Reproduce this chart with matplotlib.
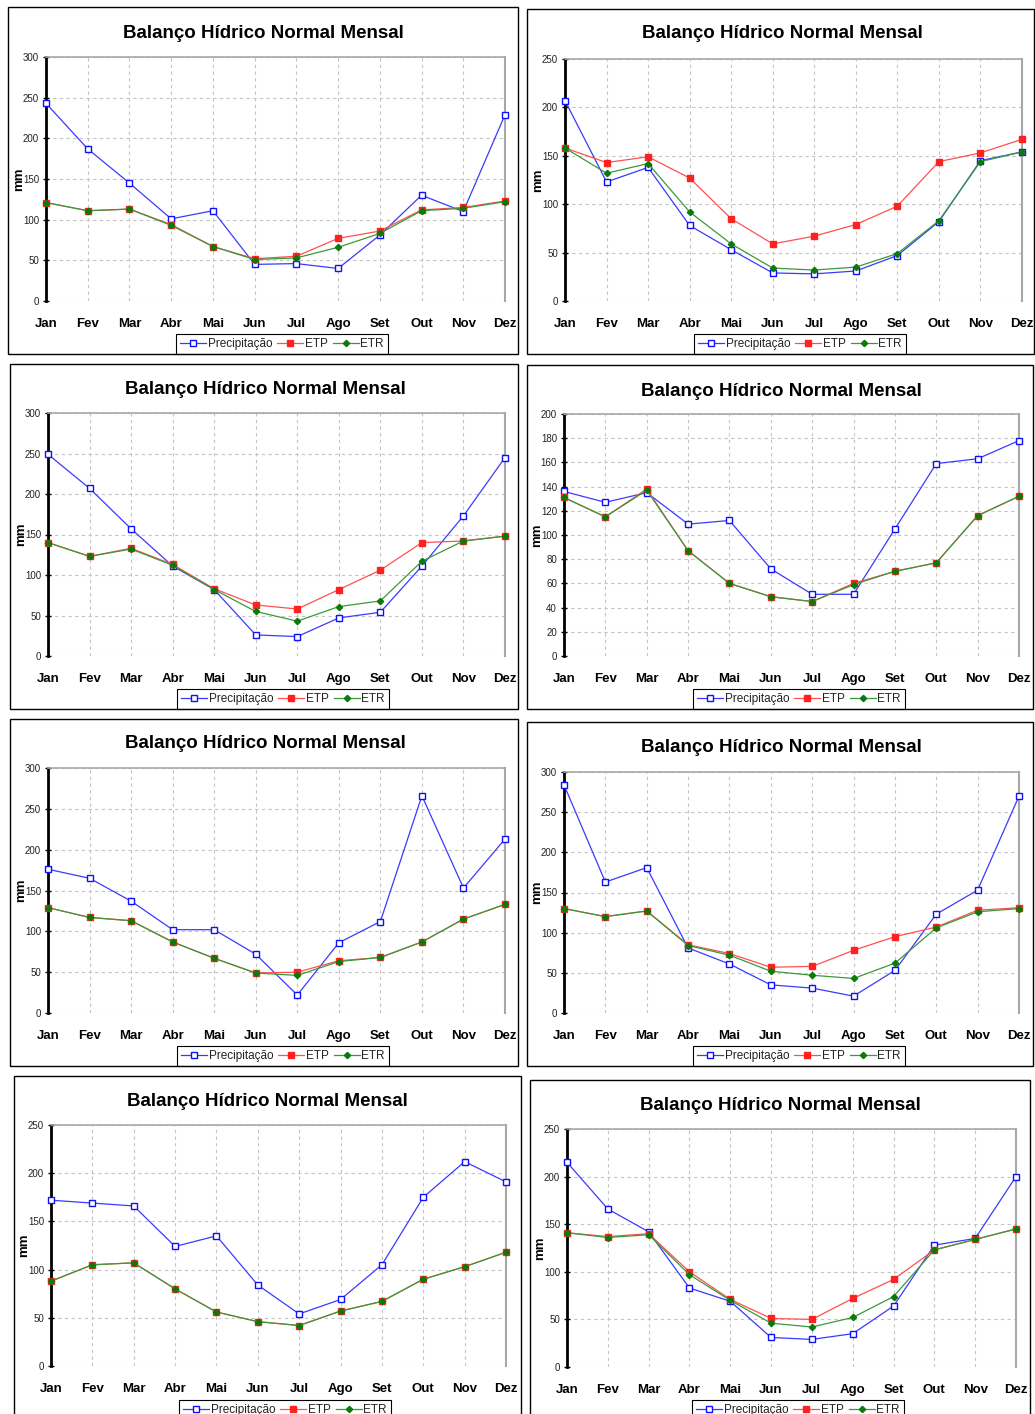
import matplotlib
matplotlib.use("Agg")
import matplotlib.pyplot as plt
from matplotlib.patches import Rectangle
from matplotlib.lines import Line2D

plt.rcParams['font.family'] = ['Liberation Sans', 'DejaVu Sans']

W, H = 1035, 1414

meses = ["Jan", "Fev", "Mar", "Abr", "Mai", "Jun", "Jul", "Ago", "Set", "Out", "Nov", "Dez"]
titulo = "Balanço Hídrico Normal Mensal"

# painel 1
precip_1 = [243, 187, 145, 101, 111, 45, 46, 40, 81, 130, 110, 229]
etp_1 = [121, 111, 113, 94, 67, 52, 55, 77, 86, 112, 115, 123]
etr_1 = [121, 111, 113, 93, 67, 51, 53, 66, 83, 111, 114, 122]
# painel 2
precip_2 = [207, 123, 138, 78, 53, 29, 28, 31, 47, 82, 145, 154]
etp_2 = [158, 143, 149, 127, 85, 59, 67, 79, 98, 144, 153, 167]
etr_2 = [158, 132, 142, 92, 59, 34, 32, 35, 49, 83, 144, 154]
# painel 3
precip_3 = [249, 207, 157, 111, 82, 26, 24, 47, 54, 111, 173, 245]
etp_3 = [140, 123, 133, 113, 83, 63, 58, 82, 106, 140, 142, 148]
etr_3 = [140, 123, 132, 112, 82, 55, 43, 61, 68, 117, 142, 148]
# painel 4
precip_4 = [136, 127, 135, 109, 112, 72, 51, 51, 105, 159, 163, 178]
etp_4 = [131, 115, 138, 87, 60, 49, 45, 60, 70, 77, 116, 132]
etr_4 = [131, 115, 137, 87, 60, 49, 45, 59, 70, 77, 116, 132]
# painel 5
precip_5 = [176, 165, 137, 102, 102, 72, 22, 86, 112, 266, 153, 213]
etp_5 = [129, 117, 113, 87, 67, 49, 50, 64, 68, 87, 115, 133]
etr_5 = [129, 117, 113, 87, 67, 49, 46, 63, 68, 87, 115, 133]
# painel 6
precip_6 = [284, 163, 181, 81, 61, 35, 31, 21, 53, 123, 153, 270]
etp_6 = [130, 120, 127, 85, 74, 57, 58, 78, 95, 107, 128, 131]
etr_6 = [130, 120, 127, 84, 72, 52, 47, 43, 62, 106, 126, 130]
# painel 7
precip_7 = [172, 169, 166, 124, 135, 84, 54, 69, 105, 175, 212, 191]
etp_7 = [88, 105, 107, 80, 56, 46, 42, 57, 67, 90, 103, 118]
etr_7 = [88, 105, 107, 80, 56, 46, 42, 57, 67, 90, 103, 118]
# painel 8
precip_8 = [215, 166, 142, 83, 69, 31, 29, 35, 64, 128, 135, 200]
etp_8 = [141, 137, 140, 100, 71, 51, 50, 72, 92, 123, 134, 145]
etr_8 = [141, 136, 139, 97, 70, 46, 42, 52, 74, 123, 134, 145]

ymax = [300, 250, 300, 200, 300, 300, 250, 250]
ystep = [50, 50, 50, 20, 50, 50, 50, 50]

dados = [(precip_1, etp_1, etr_1), (precip_2, etp_2, etr_2),
         (precip_3, etp_3, etr_3), (precip_4, etp_4, etr_4),
         (precip_5, etp_5, etr_5), (precip_6, etp_6, etr_6),
         (precip_7, etp_7, etr_7), (precip_8, etp_8, etr_8)]

# pixel boxes: frame (l, t, r, b), axes (l, t, r, b), title center (x, y), legend (center x, bottom y)
molduras = [(8, 7, 518, 354), (527, 9, 1034, 354),
            (10, 364, 518, 709), (527, 365, 1033, 709),
            (10, 719, 518, 1066), (527, 722, 1033, 1066),
            (14, 1076, 521, 1430), (530, 1080, 1030, 1430)]
eixos = [(46, 57, 505, 301), (565, 59, 1022, 301),
         (48, 413, 505, 656), (564, 414, 1019, 656),
         (48, 768, 505, 1013), (564, 772, 1019, 1013),
         (51, 1125, 506, 1366), (567, 1129, 1016, 1367)]
titulos = [(263, 33), (782, 34), (265, 389), (781, 391),
           (265, 744), (781, 747), (267, 1101), (780, 1105)]
legendas = [(282, 354), (800, 354), (283, 709), (799, 709),
            (283, 1066), (799, 1066), (285, 1420), (798, 1420)]

cor_p = '#3a3aff'
cor_etp = '#ff2020'
cor_etr = '#0a7a0a'

fig = plt.figure(figsize=(W / 100, H / 100), dpi=100)
fig.patch.set_facecolor('white')

def fbox(l, t, r, b):
    return [l / W, 1 - b / H, (r - l) / W, (b - t) / H]

x = list(range(12))
for i in range(8):
    precip, etp, etr = dados[i]
    ax = fig.add_axes(fbox(*eixos[i]))
    ax.plot(x, precip, color=cor_p, lw=0.9, marker='s', ms=4.6, mfc='white',
            mec='#1010ff', mew=1.0, clip_on=False, zorder=3, label='Precipitação')
    ax.plot(x, etp, color='#ff5050', lw=0.9, marker='s', ms=4.4, mfc=cor_etp,
            mec=cor_etp, clip_on=False, zorder=4, label='ETP')
    ax.plot(x, etr, color='#3a9a3a', lw=0.9, marker='D', ms=3.2, mfc=cor_etr,
            mec=cor_etr, clip_on=False, zorder=5, label='ETR')

    ax.set_xlim(0, 11)
    ax.set_ylim(0, ymax[i])
    ax.set_xticks(x)
    ax.set_xticklabels(meses, fontsize=9.5, fontweight='bold')
    ax.set_yticks(range(0, ymax[i] + 1, ystep[i]))
    ax.tick_params(axis='x', length=0, pad=12)
    ax.tick_params(axis='y', direction='inout', length=4, width=1, labelsize=7,
                   pad=3, labelcolor='#222222')
    ax.grid(True, color='#c4c4c4', linestyle=(0, (3, 3)), lw=0.8)
    ax.set_axisbelow(True)
    ax.spines['bottom'].set_visible(False)
    ax.spines['top'].set_color('#a8a8a8')
    ax.spines['right'].set_color('#a8a8a8')
    ax.spines['top'].set_linewidth(1.2)
    ax.spines['right'].set_linewidth(1.5)
    ax.spines['left'].set_linewidth(2)
    ax.spines['left'].set_color('black')
    ax.set_ylabel("mm", fontsize=9.5, fontweight='bold')
    largura = eixos[i][2] - eixos[i][0]
    ax.yaxis.set_label_coords(-21.0 / largura, 0.5)

    fig.text(titulos[i][0] / W, 1 - titulos[i][1] / H, titulo, fontsize=13.5,
             fontweight='bold', ha='center', va='center')

    alcas = [Line2D([], [], color=cor_p, lw=0.9, marker='s', ms=4.6, mfc='white', mec='#1010ff'),
             Line2D([], [], color='#ff5050', lw=0.9, marker='s', ms=4.4, mfc=cor_etp, mec=cor_etp),
             Line2D([], [], color='#3a9a3a', lw=0.9, marker='D', ms=3.2, mfc=cor_etr, mec=cor_etr)]
    leg = ax.legend(alcas, ['Precipitação', 'ETP', 'ETR'], loc='lower center',
                    bbox_to_anchor=(legendas[i][0] / W, 1 - legendas[i][1] / H),
                    bbox_transform=fig.transFigure, ncol=3, fontsize=8.5,
                    frameon=True, fancybox=False, edgecolor='black', framealpha=1,
                    handlelength=2.2, handletextpad=0.15, columnspacing=0.4,
                    borderpad=0.35, borderaxespad=0)
    leg.get_frame().set_linewidth(0.8)
    for t in leg.get_texts():
        t.set_color('#222222')

    l, t, r, b = molduras[i]
    fig.add_artist(Rectangle((l / W, 1 - b / H), (r - l) / W, (b - t) / H,
                             transform=fig.transFigure, fill=False,
                             edgecolor='black', lw=1.0))

fig.savefig("out.png", dpi=100)
